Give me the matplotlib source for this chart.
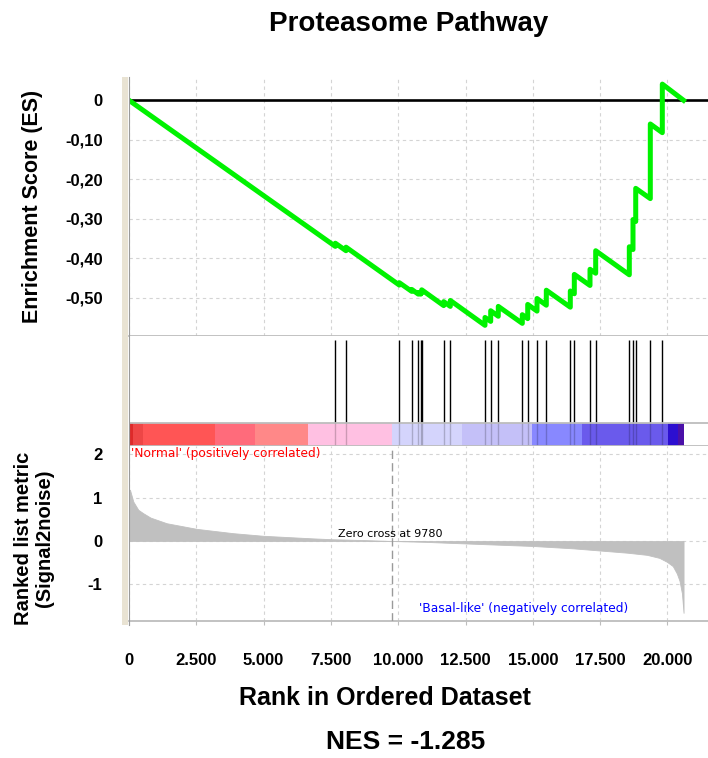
import matplotlib
matplotlib.use('Agg')
import matplotlib.pyplot as plt
from matplotlib.patches import Rectangle
from matplotlib.lines import Line2D

plt.rcParams['font.family'] = ['Liberation Sans', 'DejaVu Sans']

# --- data ---
n_genes = 20600
hit_ranks = [7664, 8061, 10041, 10502, 10747, 10836, 10873, 11690, 11935,
             13224, 13436, 13718, 14610, 14811, 15156, 15502, 16393, 16542,
             17125, 17336, 18585, 18722, 18823, 19365, 19811]
es_before = [-0.370, -0.381, -0.468, -0.484, -0.491, -0.491, -0.488, -0.520, -0.522,
             -0.570, -0.560, -0.547, -0.565, -0.553, -0.534, -0.519, -0.524, -0.490,
             -0.469, -0.438, -0.442, -0.378, -0.307, -0.249, -0.082]
es_after = [-0.362, -0.372, -0.462, -0.479, -0.487, -0.486, -0.480, -0.510, -0.507,
            -0.550, -0.533, -0.522, -0.543, -0.517, -0.502, -0.481, -0.483, -0.441,
            -0.428, -0.381, -0.371, -0.302, -0.223, -0.060, 0.041]

metric_ranks = [0, 37, 160, 345, 533, 800, 1400, 2515, 3875, 4990, 6840, 7580, 8800, 9780,
                11000, 11800, 13500, 15000, 16500, 17500, 18500, 19240, 19700, 19980,
                20200, 20350, 20450, 20540, 20600]
metric_values = [1.19, 1.18, 0.91, 0.72, 0.64, 0.54, 0.41, 0.28, 0.18, 0.12, 0.06, 0.04, 0.02, 0.0,
                 -0.02, -0.04, -0.08, -0.115, -0.17, -0.22, -0.27, -0.32, -0.39, -0.48,
                 -0.58, -0.75, -0.92, -1.21, -1.66]

bar_edges = [0, 150, 520, 3195, 4680, 6638, 9780, 12359, 14959, 16816, 20033, 20405, 20600]
bar_colors = ['#dd2a2a', '#ee4646', '#ff5555', '#ff6b7b', '#ff8888', '#ffc0e2',
              '#d4d4fc', '#c4c0f8', '#8888ff', '#6a5aec', '#2c0fd0', '#4a10a8']

x_ticks = [0, 2500, 5000, 7500, 10000, 12500, 15000, 17500, 20000]
x_labels = ['0', '2.500', '5.000', '7.500', '10.000', '12.500', '15.000', '17.500', '20.000']
es_ticks = [0, -0.1, -0.2, -0.3, -0.4, -0.5]
es_labels = ['0', '-0,10', '-0,20', '-0,30', '-0,40', '-0,50']
metric_ticks = [2, 1, 0, -1]
zero_cross = 9780

# --- layout ---
W, H = 708, 758
fig = plt.figure(figsize=(W / 100, H / 100), dpi=100)

def box(x0, y0, x1, y1):
    return [x0 / W, 1 - y1 / H, (x1 - x0) / W, (y1 - y0) / H]

ax_es = fig.add_axes(box(129, 77, 708, 336))
ax_hit = fig.add_axes(box(129, 336, 708, 446))
ax_rank = fig.add_axes(box(129, 446, 708, 621))

xmax = 21508
grid_kw = dict(color='#d4d4d4', linestyle=(0, (3, 3)), linewidth=0.8)

for ax in (ax_es, ax_hit, ax_rank):
    ax.set_xlim(0, xmax)
    for s in ax.spines.values():
        s.set_visible(False)

# enrichment score panel
es_x = [0]
es_y = [0.0]
for r, b, a in zip(hit_ranks, es_before, es_after):
    es_x += [r, r]
    es_y += [b, a]
es_x.append(n_genes)
es_y.append(0.0)

ax_es.set_ylim(-0.597, 0.059)
ax_es.set_xticks(x_ticks)
ax_es.set_xticklabels([])
ax_es.set_yticks(es_ticks)
ax_es.set_yticklabels(es_labels, fontsize=12, fontweight='bold')
ax_es.tick_params(length=0, pad=19)
ax_es.grid(True, **grid_kw)
ax_es.axhline(0, color='black', linewidth=1.9, zorder=3)
ax_es.plot(es_x, es_y, color='#00f200', linewidth=3.6, solid_joinstyle='round', zorder=4)
ax_es.spines['bottom'].set_visible(True)
ax_es.spines['bottom'].set_color('#bdbdbd')
ax_es.spines['bottom'].set_linewidth(1.3)

# hits + ranking colour bar
ax_hit.set_ylim(110, 0)
ax_hit.set_xticks([])
ax_hit.set_yticks([])
for left, right, c in zip(bar_edges[:-1], bar_edges[1:], bar_colors):
    ax_hit.add_patch(Rectangle((left, 87), right - left, 23, facecolor=c, edgecolor='none'))
ax_hit.vlines(hit_ranks, 3.5, 87, color='black', linewidth=1.0)
ax_hit.vlines(hit_ranks, 87, 110, color='black', linewidth=1.0, alpha=0.2)
ax_hit.axhline(87, color='#bdbdbd', linewidth=1.3)
ax_hit.axhline(109.5, color='#bdbdbd', linewidth=1.3)

# ranked list metric panel
ax_rank.set_ylim(-1.848, 2.194)
ax_rank.fill_between(metric_ranks, metric_values, 0, color='#c0c0c0', linewidth=0.6,
                     edgecolor='#c0c0c0', zorder=2)
ax_rank.set_xticks(x_ticks)
ax_rank.set_xticklabels(x_labels, fontsize=12, fontweight='bold')
ax_rank.set_yticks(metric_ticks)
ax_rank.set_yticklabels([str(t) for t in metric_ticks], fontsize=12, fontweight='bold')
ax_rank.tick_params(axis='y', length=0, pad=19)
ax_rank.tick_params(axis='x', length=3, color='#bdbdbd', pad=20)
ax_rank.grid(True, **grid_kw)
ax_rank.axvline(zero_cross, color='#9a9a9a', linestyle=(0, (6, 3)), linewidth=1.0, zorder=3)
ax_rank.spines['bottom'].set_visible(True)
ax_rank.spines['bottom'].set_color('#bdbdbd')
ax_rank.spines['bottom'].set_linewidth(1.3)

ax_rank.text(75, 2.03, "'Normal' (positively correlated)", color='#ff0000',
             fontsize=8.8, family='DejaVu Sans', ha='left', va='center')
ax_rank.text(9700, 0.16, 'Zero cross at %d' % zero_cross, color='black',
             fontsize=8, family='DejaVu Sans', ha='center', va='center')
ax_rank.text(10770, -1.55, "'Basal-like' (negatively correlated)", color='#0000ff',
             fontsize=8.8, family='DejaVu Sans', ha='left', va='center')

# beige left strip
fig.add_artist(Rectangle((122 / W, 1 - 625 / H), 6 / W, (625 - 77) / H,
                         transform=fig.transFigure, facecolor='#e9e3d3', edgecolor='none'))
fig.add_artist(Line2D([128.5 / W, 128.5 / W], [1 - 625 / H, 1 - 77 / H],
                      transform=fig.transFigure, color='#9a9a9a', linewidth=0.8))

# titles / labels
fig.text(409 / W, 1 - 24 / H, 'Proteasome Pathway', fontsize=20, fontweight='bold',
         ha='center', va='center')
fig.text(33 / W, 1 - 206 / H, 'Enrichment Score (ES)', fontsize=15.5, fontweight='bold',
         rotation=90, ha='center', va='center')
fig.text(34 / W, 1 - 538 / H, 'Ranked list metric\n(Signal2noise)', fontsize=14.5,
         fontweight='bold', rotation=90, ha='center', va='center', multialignment='center',
         linespacing=1.1)
fig.text(385 / W, 1 - 698 / H, 'Rank in Ordered Dataset', fontsize=18, fontweight='bold',
         ha='center', va='center')
fig.text(406 / W, 1 - 742 / H, 'NES = -1.285', fontsize=19, fontweight='bold',
         ha='center', va='center')

fig.savefig('out.png', dpi=100)
